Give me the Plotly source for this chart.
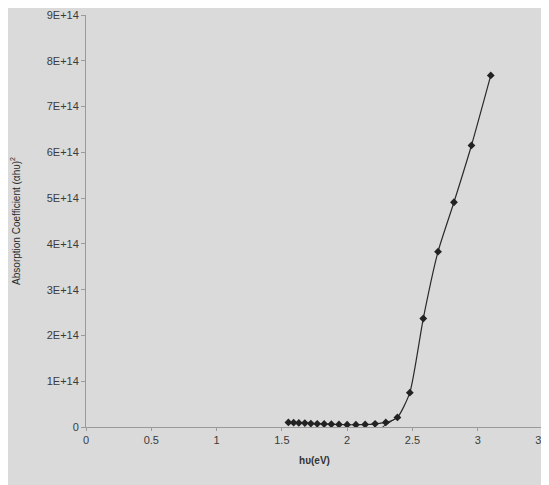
import plotly.graph_objects as go

# Photon energy (eV) and (alpha*h*nu)^2 values
hv_ev = [1.55, 1.59, 1.63, 1.676, 1.722, 1.771, 1.824, 1.879, 1.9375, 2.0, 2.067,
         2.138, 2.214, 2.296, 2.385, 2.48, 2.583, 2.696, 2.818, 2.952, 3.1]
abs_coef = [0.10e14, 0.095e14, 0.09e14, 0.085e14, 0.075e14, 0.07e14, 0.065e14, 0.06e14,
            0.055e14, 0.05e14, 0.05e14, 0.055e14, 0.07e14, 0.10e14, 0.21e14, 0.75e14,
            2.37e14, 3.83e14, 4.91e14, 6.15e14, 7.68e14]

# Extrapolation line to the energy axis
fit_x = [2.27, 2.385]
fit_y = [0.0, 0.21e14]

x_ticks = [0, 0.5, 1, 1.5, 2, 2.5, 3, 3.5]
x_tick_labels = ["0", "0.5", "1", "1.5", "2", "2.5", "3", "3.5"]
y_ticks = [0, 1e14, 2e14, 3e14, 4e14, 5e14, 6e14, 7e14, 8e14, 9e14]
y_tick_labels = ["0", "1E+14", "2E+14", "3E+14", "4E+14", "5E+14", "6E+14", "7E+14", "8E+14", "9E+14"]

fig = go.Figure()
fig.add_trace(go.Scatter(
    x=fit_x, y=fit_y, mode="lines",
    line=dict(color="#2a2a2a", width=1), hoverinfo="skip", showlegend=False))
fig.add_trace(go.Scatter(
    x=hv_ev, y=abs_coef, mode="lines+markers",
    line=dict(color="#2a2a2a", width=1.2, shape="spline", smoothing=0.6),
    marker=dict(symbol="diamond", size=6, color="#222222"),
    showlegend=False))

axis_font = dict(family="Liberation Sans, Arial, sans-serif", size=11, color="#3a3a3a")

fig.update_layout(
    width=541, height=477,
    margin=dict(l=78, r=6, t=7, b=58, autoexpand=False),
    paper_bgcolor="#dadada", plot_bgcolor="#dadada",
    xaxis=dict(
        range=[0, 3.5], tickvals=x_ticks, ticktext=x_tick_labels,
        showgrid=False, zeroline=False, showline=True, linecolor="#9a9a9a", linewidth=1,
        ticks="outside", ticklen=3, tickcolor="#9a9a9a", tickfont=axis_font,
        ticklabeloverflow="allow", automargin=False,
        title=dict(text="<b>hυ(eV)</b>", font=dict(family="Liberation Sans, Arial, sans-serif",
                   size=10, color="#333333"), standoff=11),
    ),
    yaxis=dict(
        range=[0, 9e14], tickvals=y_ticks, ticktext=y_tick_labels,
        showgrid=False, zeroline=False, showline=True, linecolor="#9a9a9a", linewidth=1,
        ticks="outside", ticklen=4, tickcolor="#9a9a9a", tickfont=axis_font,
        automargin=False,
        title=dict(text="Absorption Coefficient (αhυ)<sup>2</sup>",
                   font=dict(family="Liberation Sans, Arial, sans-serif", size=10, color="#2a2a2a"),
                   standoff=24),
    ),
)

fig.write_html("out.html")
